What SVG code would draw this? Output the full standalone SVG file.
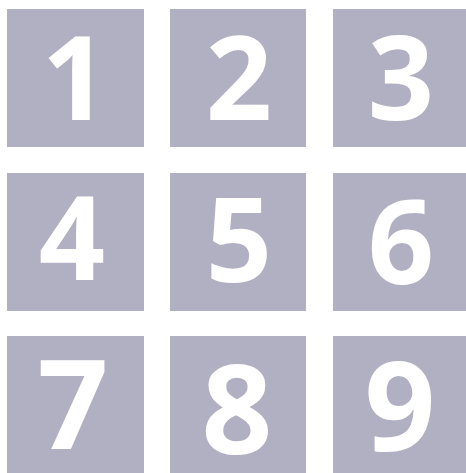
<svg xmlns="http://www.w3.org/2000/svg" width="466" height="473" viewBox="0 0 466 473">
<style>
.tile{fill:#b1b0c2}
.num{fill:#ffffff;font-family:"Open Sans","Noto Sans","Liberation Sans",sans-serif;font-weight:700;text-anchor:middle}
.r12{font-size:116px}
.r3{font-size:124px}
</style>
<rect width="466" height="473" fill="#ffffff"/>
<g id="n1"><rect class="tile" x="7" y="9" width="137" height="138"/><text class="num r12" x="75" y="120">1</text></g>
<g id="n2"><rect class="tile" x="170" y="9" width="136" height="138"/><text class="num r12" x="239" y="120">2</text></g>
<g id="n3"><rect class="tile" x="333" y="9" width="133" height="138"/><text class="num r12" x="401" y="120">3</text></g>
<g id="n4"><rect class="tile" x="7" y="173" width="137" height="138"/><text class="num r12" x="72" y="280">4</text></g>
<g id="n5"><rect class="tile" x="170" y="173" width="136" height="138"/><text class="num r12" x="239" y="282">5</text></g>
<g id="n6"><rect class="tile" x="333" y="173" width="133" height="138"/><text class="num r12" x="401" y="284">6</text></g>
<g id="n7"><rect class="tile" x="7" y="336" width="137" height="137"/><text class="num r3" x="73" y="449">7</text></g>
<g id="n8"><rect class="tile" x="170" y="336" width="136" height="137"/><text class="num r3" x="237" y="454">8</text></g>
<g id="n9"><rect class="tile" x="333" y="336" width="133" height="137"/><text class="num r3" x="400" y="451">9</text></g>
<g id="connectors"></g>
</svg>
